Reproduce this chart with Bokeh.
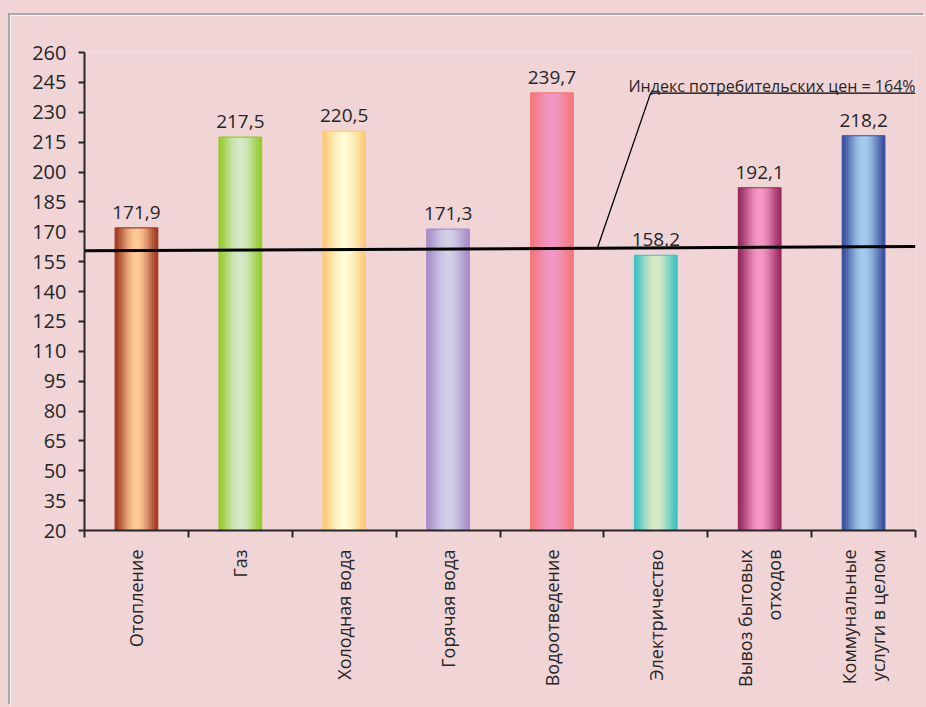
import math
from bokeh.plotting import figure
from bokeh.models import ColumnDataSource, FixedTicker, Range1d, LabelSet, Label
from bokeh.core.properties import value
from bokeh.embed import file_html
from bokeh.resources import INLINE

# ---- data ----
categories = ["Отопление", "Газ", "Холодная вода", "Горячая вода", "Водоотведение",
              "Электричество", "Вывоз бытовых\nотходов", "Коммунальные\nуслуги в целом"]
values = [171.9, 217.5, 220.5, 171.3, 239.7, 158.2, 192.1, 218.2]
y_ticks = list(range(20, 261, 15))
cpi_label = "Индекс потребительских цен = 164%"
cpi_line_x = [0.0, 8.0]
cpi_line_y = [160.4, 162.6]
callout_x = [4.94, 5.45, 8.0]
callout_y = [162.2, 239.6, 239.6]
cpi_label_pos = (8.0, 243.4)

# ---- styles ----
edge_colors = ["#A03A22", "#96CA2E", "#FDC97A", "#A68DC6", "#F47878", "#3CC2C2", "#972A60", "#3A4E9E"]
center_colors = ["#FDCA94", "#D4E9CA", "#FFFBD4", "#D3CFE7", "#F296C6", "#D6E9C6", "#F596C4", "#A3CBED"]
BG = "#F0D4D6"
INK = "#262626"
FONT = "Open Sans"
BAR_W = 0.41
N_STRIPS = 22


def hex2rgb(h):
    h = h.lstrip("#")
    return tuple(int(h[i:i + 2], 16) for i in (0, 2, 4))


def mix(c1, c2, t):
    a, b = hex2rgb(c1), hex2rgb(c2)
    return "#%02x%02x%02x" % tuple(int(round(a[k] + (b[k] - a[k]) * t)) for k in range(3))


p = figure(width=915, height=691, x_range=Range1d(0, 8), y_range=Range1d(20, 260),
           output_backend="svg", toolbar_location=None,
           min_border_left=74, min_border_right=10, min_border_top=37, min_border_bottom=176,
           background_fill_color=BG, border_fill_color=BG,
           styles={"margin-left": "10px", "margin-top": "15px",
                   "box-shadow": "-2px -2px 0 0 #A8A8A8, 0 0 0 40px " + BG})
p.outline_line_color = None
p.grid.visible = False

# gradient bars built from overlapping thin strips
sx, stop, sw, sc = [], [], [], []
for i, v in enumerate(values):
    d = BAR_W / N_STRIPS
    left = i + 0.5 - BAR_W / 2
    for k in range(N_STRIPS):
        u = (k + 0.5) / N_STRIPS
        t = math.sin(math.pi * u) ** 1.4
        lo = left + k * d
        hi = min(left + BAR_W, lo + 1.7 * d)
        sx.append((lo + hi) / 2)
        sw.append(hi - lo)
        stop.append(v)
        sc.append(mix(edge_colors[i], center_colors[i], t))
p.vbar(x=sx, top=stop, bottom=20, width=sw, fill_color=sc, line_color=None)

centers = [i + 0.5 for i in range(len(values))]
p.vbar(x=centers, top=values, bottom=20, width=BAR_W, fill_color=None,
       line_color=edge_colors, line_width=1.2)

# value labels
src = ColumnDataSource(dict(x=centers, top=values,
                            label=[("%.1f" % v).replace(".", ",") for v in values]))
p.add_layout(LabelSet(x="x", y="top", text="label", source=src, y_offset=9,
                      text_align="center", text_baseline="alphabetic",
                      text_font=value(FONT), text_font_size=value("19px"), text_color=INK))

# CPI line and callout
p.line(cpi_line_x, cpi_line_y, line_color="black", line_width=3)
p.line(callout_x, callout_y, line_color="black", line_width=1.3)
p.add_layout(Label(x=cpi_label_pos[0], y=cpi_label_pos[1], text=cpi_label,
                   text_align="right", text_baseline="alphabetic",
                   text_font=FONT, text_font_size="16px", text_color=INK))

# y axis
ya = p.yaxis[0]
ya.ticker = FixedTicker(ticks=y_ticks)
ya.axis_line_color = INK
ya.axis_line_width = 2
ya.major_tick_line_color = INK
ya.major_tick_line_width = 2
ya.major_tick_in = 0
ya.major_tick_out = 6
ya.minor_tick_line_color = None
ya.major_label_standoff = 12
ya.major_label_text_font = FONT
ya.major_label_text_font_size = "20px"
ya.major_label_text_color = INK

# x axis: labels at centres, ticks at boundaries
xa = p.xaxis[0]
xa.ticker = FixedTicker(ticks=centers, minor_ticks=list(range(len(values) + 1)))
xa.major_label_overrides = {c: lab for c, lab in zip(centers, categories)}
xa.axis_line_color = INK
xa.axis_line_width = 2
xa.major_tick_line_color = None
xa.major_tick_in = 0
xa.major_tick_out = 0
xa.minor_tick_line_color = INK
xa.minor_tick_line_width = 2
xa.minor_tick_in = 0
xa.minor_tick_out = 7
xa.major_label_orientation = math.pi / 2
xa.major_label_standoff = 12
xa.major_label_text_font = FONT
xa.major_label_text_font_size = "18px"
xa.major_label_text_color = INK

open("out.html", "w").write(file_html(p, INLINE))
